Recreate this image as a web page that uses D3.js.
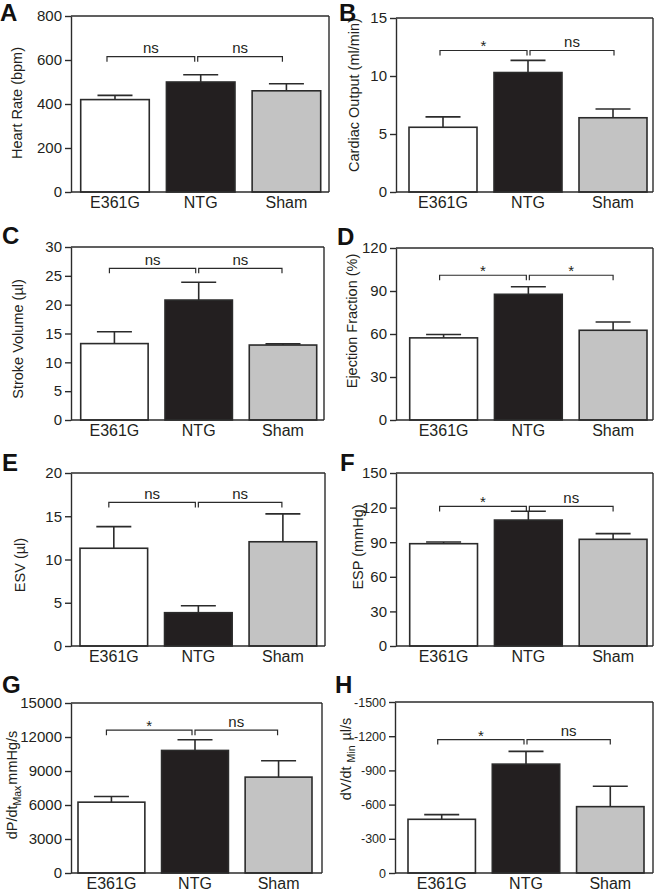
<!DOCTYPE html>
<html>
<head>
<meta charset="utf-8">
<script src="https://cdn.jsdelivr.net/npm/d3@7/dist/d3.min.js"></script>
<style>
  html, body { margin: 0; padding: 0; background: #ffffff; }
  svg { display: block; }
  text { font-family: "Liberation Sans", Arial, Helvetica, sans-serif; }
</style>
</head>
<body>
<svg id="chart" width="656" height="894"></svg>
<script>
// ---------------- DATA ----------------
const categories = ["E361G", "NTG", "Sham"];
const panelLetters = ["A", "B", "C", "D", "E", "F", "G", "H"];

const heartRate      = [420, 500, 460];
const heartRateSEM   = [19, 33, 32];
const cardiacOutput    = [5.58, 10.3, 6.4];
const cardiacOutputSEM = [0.9, 1.05, 0.76];
const strokeVolume    = [13.25, 20.8, 13.0];
const strokeVolumeSEM = [2.05, 3.1, 0.2];
const ejectionFraction    = [57.3, 87.7, 62.6];
const ejectionFractionSEM = [2.3, 5.3, 5.8];
const esv    = [11.3, 3.85, 12.05];
const esvSEM = [2.5, 0.81, 3.22];
const esp    = [88.7, 109.2, 92.5];
const espSEM = [1.5, 7.6, 4.9];
const dpdtMax    = [6250, 10815, 8460];
const dpdtMaxSEM = [500, 943, 1440];
const dvdtMin    = [-471, -955, -582];
const dvdtMinSEM = [41, 112, 179];

const ticksA = [0, 200, 400, 600, 800];
const ticksB = [0, 5, 10, 15];
const ticksC = [0, 5, 10, 15, 20, 25, 30];
const ticksD = [0, 30, 60, 90, 120];
const ticksE = [0, 5, 10, 15, 20];
const ticksF = [0, 30, 60, 90, 120, 150];
const ticksG = [0, 3000, 6000, 9000, 12000, 15000];
const ticksH = [0, -300, -600, -900, -1200, -1500];

// significance: [E361G vs NTG, NTG vs Sham]
const sigA = ["ns", "ns"];
const sigB = ["*", "ns"];
const sigC = ["ns", "ns"];
const sigD = ["*", "*"];
const sigE = ["ns", "ns"];
const sigF = ["*", "ns"];
const sigG = ["*", "ns"];
const sigH = ["*", "ns"];
// bracket heights in data units
const bracketLevels = [615, 12.2, 26.3, 101, 16.6, 121, 12600, -1170];

const yTitles = [
  [{t: "Heart Rate (bpm)"}],
  [{t: "Cardiac Output (ml/min)"}],
  [{t: "Stroke Volume (\u00b5l)"}],
  [{t: "Ejection Fraction (%)"}],
  [{t: "ESV (\u00b5l)"}],
  [{t: "ESP (mmHg)"}],
  [{t: "dP/dt"}, {t: "Max", sub: true}, {t: "mmHg/s"}],
  [{t: "dV/dt "}, {t: "Min", sub: true}, {t: " \u00b5l/s"}]
];

// ---------------- LAYOUT (pixels) ----------------
const layout = [
  {L: 71,  R: 329, T: 16,  B: 192, b0: 80.7,  b1: 320.7, lx: 17,  ly: 103, px: 0,   py: 21,  bs: -4, tf: 15},
  {L: 396, R: 653, T: 18,  B: 192, b0: 409,   b1: 647,   lx: 354, ly: 95,  px: 339, py: 21,  bs: 1,  tf: 15},
  {L: 71,  R: 324, T: 247, B: 420, b0: 80.7,  b1: 316.7, lx: 18,  ly: 339, px: 2,   py: 244, bs: -1, tf: 15},
  {L: 396, R: 653, T: 248, B: 420, b0: 409.7, b1: 647,   lx: 352, ly: 321, px: 337, py: 245, bs: 0,  tf: 15},
  {L: 71,  R: 325, T: 473, B: 646, b0: 80,    b1: 316.7, lx: 20,  ly: 565, px: 2,   py: 471, bs: -1, tf: 15},
  {L: 396, R: 653, T: 473, B: 646, b0: 409.7, b1: 647,   lx: 358, ly: 547, px: 340, py: 471, bs: 0,  tf: 15},
  {L: 71,  R: 322, T: 703, B: 873, b0: 78,    b1: 312,   lx: 12,  ly: 785, px: 2,   py: 693, bs: -1, tf: 15},
  {L: 395, R: 653, T: 702, B: 873, b0: 408,   b1: 644,   lx: 346, ly: 759, px: 335, py: 693, bs: 0,  tf: 12.5}
];

const panels = [
  {values: heartRate, sem: heartRateSEM, ticks: ticksA, sig: sigA},
  {values: cardiacOutput, sem: cardiacOutputSEM, ticks: ticksB, sig: sigB},
  {values: strokeVolume, sem: strokeVolumeSEM, ticks: ticksC, sig: sigC},
  {values: ejectionFraction, sem: ejectionFractionSEM, ticks: ticksD, sig: sigD},
  {values: esv, sem: esvSEM, ticks: ticksE, sig: sigE},
  {values: esp, sem: espSEM, ticks: ticksF, sig: sigF},
  {values: dpdtMax, sem: dpdtMaxSEM, ticks: ticksG, sig: sigG},
  {values: dvdtMin, sem: dvdtMinSEM, ticks: ticksH, sig: sigH}
];

// ---------------- STYLE ----------------
const ink = "#2b2b2b";
const txt = "#231f20";
const fills = ["#ffffff", "#231f20", "#c3c3c3"];

const svg = d3.select("#chart");
svg.append("rect").attr("width", 656).attr("height", 894).attr("fill", "#fff");

panels.forEach((p, i) => {
  const lay = layout[i];
  const g = svg.append("g");
  const tExt = d3.extent(p.ticks);
  const domain = p.ticks[p.ticks.length - 1] < 0 ? [0, tExt[0]] : [0, tExt[1]];
  const y = d3.scaleLinear().domain(domain).range([lay.B, lay.T]);
  const x = d3.scaleBand().domain(categories).range([lay.b0, lay.b1])
    .paddingInner(0.2).paddingOuter(0);

  // frame: top + right
  g.append("line").attr("x1", lay.L).attr("x2", lay.R).attr("y1", lay.T).attr("y2", lay.T)
    .attr("stroke", ink).attr("stroke-width", 1.4);
  g.append("line").attr("x1", lay.R).attr("x2", lay.R).attr("y1", lay.T).attr("y2", lay.B)
    .attr("stroke", ink).attr("stroke-width", 1.4);

  // bars
  g.selectAll("rect.bar").data(categories).join("rect")
    .attr("class", "bar")
    .attr("x", d => x(d))
    .attr("width", x.bandwidth())
    .attr("y", (d, k) => Math.min(y(0), y(p.values[k])))
    .attr("height", (d, k) => Math.abs(y(0) - y(p.values[k])))
    .attr("fill", (d, k) => fills[k])
    .attr("stroke", ink).attr("stroke-width", 1.6);

  // error bars (upward only)
  const capW = 35;
  categories.forEach((c, k) => {
    const v = p.values[k];
    const tip = v + Math.sign(v) * p.sem[k];
    const cx = x(c) + x.bandwidth() / 2;
    g.append("line").attr("x1", cx).attr("x2", cx).attr("y1", y(v)).attr("y2", y(tip))
      .attr("stroke", ink).attr("stroke-width", 1.6);
    g.append("line").attr("x1", cx - capW / 2).attr("x2", cx + capW / 2).attr("y1", y(tip)).attr("y2", y(tip))
      .attr("stroke", ink).attr("stroke-width", 1.6);
  });

  // left axis
  const ax = g.append("g").attr("transform", `translate(${lay.L},0)`)
    .call(d3.axisLeft(y).tickValues(p.ticks).tickSize(6).tickSizeOuter(0).tickPadding(3)
      .tickFormat(d => String(d)));
  ax.select(".domain").attr("stroke", ink).attr("stroke-width", 1.4);
  ax.selectAll(".tick line").attr("stroke", ink).attr("stroke-width", 1.4);
  ax.selectAll(".tick text").attr("font-size", lay.tf).attr("fill", txt)
    .attr("font-family", "'Liberation Sans', Arial, sans-serif");

  // bottom axis line
  g.append("line").attr("x1", lay.L).attr("x2", lay.R).attr("y1", lay.B).attr("y2", lay.B)
    .attr("stroke", ink).attr("stroke-width", 1.4);

  // category labels
  g.selectAll("text.cat").data(categories).join("text")
    .attr("class", "cat")
    .attr("x", d => x(d) + x.bandwidth() / 2)
    .attr("y", lay.B + 16)
    .attr("text-anchor", "middle").attr("font-size", 16).attr("fill", txt)
    .text(d => d);

  // significance brackets
  const centers = categories.map(c => x(c) + x.bandwidth() / 2);
  const by = y(bracketLevels[i]);
  const spans = [[centers[0] - 4 + lay.bs, centers[1] - 2 + lay.bs], [centers[1] + 1 + lay.bs, centers[2] + lay.bs]];
  spans.forEach((s, k) => {
    g.append("path")
      .attr("d", `M${s[0]},${by + 5}V${by}H${s[1]}V${by + 5}`)
      .attr("fill", "none").attr("stroke", ink).attr("stroke-width", 1.2);
    const lab = p.sig[k];
    g.append("text")
      .attr("x", (s[0] + s[1]) / 2)
      .attr("y", lab === "*" ? by + 1 : by - 3.5)
      .attr("text-anchor", "middle").attr("font-size", 15).attr("fill", txt)
      .text(lab);
  });

  // y title
  const yt = g.append("text")
    .attr("transform", `translate(${lay.lx},${lay.ly}) rotate(-90)`)
    .attr("text-anchor", "middle").attr("dy", "0.35em")
    .attr("font-size", 14.5).attr("fill", txt);
  yTitles[i].forEach((part, k) => {
    const prev = k > 0 ? yTitles[i][k - 1] : null;
    const ts = yt.append("tspan").text(part.t);
    if (part.sub) ts.attr("font-size", 10.5).attr("dy", 4);
    else if (prev && prev.sub) ts.attr("dy", -4).attr("dx", 1);
  });

  // panel letter
  g.append("text").attr("x", lay.px).attr("y", lay.py)
    .attr("font-size", 24).attr("font-weight", "bold").attr("fill", "#111")
    .text(panelLetters[i]);
});
</script>
</body>
</html>
